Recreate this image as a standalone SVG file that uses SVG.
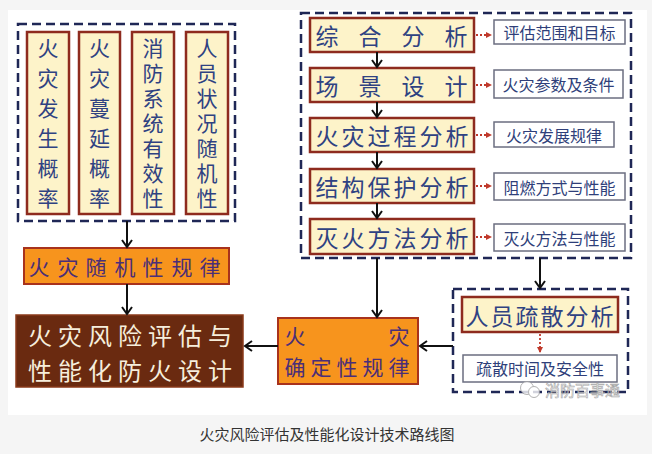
<svg xmlns="http://www.w3.org/2000/svg" width="652" height="454" viewBox="0 0 652 454">
<style>
text{font-family:"Noto Sans CJK SC","Noto Sans CJK TC",sans-serif}
.dash{fill:none;stroke:#1f2756;stroke-width:2.5;stroke-dasharray:9,5}
.yb{fill:#fdf3c9;stroke:#8e2b1e;stroke-width:2.5}
.yt{fill:#2f4282;font-size:23px;dominant-baseline:central}
.vt{fill:#2f4282;font-size:21px;writing-mode:vertical-rl;text-orientation:upright}
.wb{fill:#fff;stroke:#6b6e80;stroke-width:1.5}
.wt{fill:#2f3f7a;font-size:16px;dominant-baseline:central;text-anchor:middle}
.ob{fill:#f7941d;stroke:#a8321c;stroke-width:2}
.ot{fill:#4a2e78;font-size:21px;dominant-baseline:central}
.bt{fill:#f6eedc;font-size:24px;text-anchor:middle;dominant-baseline:central}
.arr{stroke:#111;stroke-width:2;fill:none;marker-end:url(#ah)}
.dot{stroke:#c0392b;stroke-width:1.8;fill:none;stroke-dasharray:2,2;marker-end:url(#rh)}
</style>
<defs>
<marker id="ah" markerWidth="12" markerHeight="12" refX="9" refY="6" orient="auto" markerUnits="userSpaceOnUse">
<polyline points="2,1 9,6 2,11" fill="none" stroke="#111" stroke-width="2"/>
</marker>
<marker id="rh" markerWidth="8" markerHeight="8" refX="6" refY="4" orient="auto" markerUnits="userSpaceOnUse">
<path d="M0,1 L6,4 L0,7 Z" fill="#c0392b"/>
</marker>
</defs>
<rect x="0" y="0" width="652" height="454" fill="#f5f5f5"/>
<rect x="8" y="10" width="639" height="405" fill="#fff"/>

<g id="left-group">
<rect class="dash" x="18" y="24" width="217" height="197"/>
<g id="col1"><rect class="yb" x="27" y="32" width="42" height="182"/>
<text class="vt" x="48" y="37.5" letter-spacing="9">火灾发生概率</text></g>
<g id="col2"><rect class="yb" x="79" y="32" width="41" height="182"/>
<text class="vt" x="99.5" y="37.5" letter-spacing="9">火灾蔓延概率</text></g>
<g id="col3"><rect class="yb" x="132" y="32" width="42" height="182"/>
<text class="vt" x="153" y="37.5" letter-spacing="4">消防系统有效性</text></g>
<g id="col4"><rect class="yb" x="186" y="32" width="42" height="182"/>
<text class="vt" x="207" y="37.5" letter-spacing="4">人员状况随机性</text></g>
</g>

<g id="right-group">
<rect class="dash" x="301" y="13" width="330" height="245"/>
<g id="n1"><rect class="yb" x="310" y="18" width="164" height="34"/>
<text class="yt" text-anchor="middle" y="35"><tspan x="327">综</tspan><tspan x="370">合</tspan><tspan x="413">分</tspan><tspan x="456">析</tspan></text></g>
<g id="n2"><rect class="yb" x="310" y="68" width="164" height="34"/>
<text class="yt" text-anchor="middle" y="85"><tspan x="327">场</tspan><tspan x="370">景</tspan><tspan x="413">设</tspan><tspan x="456">计</tspan></text></g>
<g id="n3"><rect class="yb" x="310" y="118" width="164" height="34"/>
<text class="yt" text-anchor="middle" y="135"><tspan x="327">火</tspan><tspan x="353">灾</tspan><tspan x="379">过</tspan><tspan x="405">程</tspan><tspan x="431">分</tspan><tspan x="457">析</tspan></text></g>
<g id="n4"><rect class="yb" x="310" y="169" width="164" height="34"/>
<text class="yt" text-anchor="middle" y="186"><tspan x="327">结</tspan><tspan x="353">构</tspan><tspan x="379">保</tspan><tspan x="405">护</tspan><tspan x="431">分</tspan><tspan x="457">析</tspan></text></g>
<g id="n5"><rect class="yb" x="310" y="219" width="164" height="35"/>
<text class="yt" text-anchor="middle" y="237"><tspan x="327">灭</tspan><tspan x="353">火</tspan><tspan x="379">方</tspan><tspan x="405">法</tspan><tspan x="431">分</tspan><tspan x="457">析</tspan></text></g>
<g id="s1"><rect class="wb" x="494" y="20" width="131" height="24"/><text class="wt" x="559.5" y="32">评估范围和目标</text></g>
<g id="s2"><rect class="wb" x="494" y="70" width="129" height="28"/><text class="wt" x="558.5" y="84">火灾参数及条件</text></g>
<g id="s3"><rect class="wb" x="494" y="122" width="120" height="25"/><text class="wt" x="554" y="134.5">火灾发展规律</text></g>
<g id="s4"><rect class="wb" x="494" y="173" width="131" height="27"/><text class="wt" x="559.5" y="186.5">阻燃方式与性能</text></g>
<g id="s5"><rect class="wb" x="494" y="224" width="131" height="27"/><text class="wt" x="559.5" y="237.5">灭火方法与性能</text></g>
</g>

<g id="evac-group">
<rect class="dash" x="453" y="289" width="175" height="103"/>
<g id="n6"><rect class="yb" x="462" y="297" width="156" height="35"/>
<text class="yt" text-anchor="middle" y="315"><tspan x="477">人</tspan><tspan x="502">员</tspan><tspan x="527">疏</tspan><tspan x="552">散</tspan><tspan x="577">分</tspan><tspan x="602">析</tspan></text></g>
<g id="s6"><rect class="wb" x="463" y="355" width="154" height="27"/><text class="wt" x="540" y="368" font-size="17">疏散时间及安全性</text></g>
</g>

<g id="random"><rect class="ob" x="24" y="248" width="205" height="36"/>
<text class="ot" text-anchor="middle" y="266"><tspan x="39">火</tspan><tspan x="68">灾</tspan><tspan x="96">随</tspan><tspan x="125">机</tspan><tspan x="153">性</tspan><tspan x="182">规</tspan><tspan x="210">律</tspan></text></g>

<g id="determ"><rect class="ob" x="278" y="318" width="140" height="66"/>
<text class="ot" text-anchor="middle" y="335"><tspan x="295">火</tspan><tspan x="399">灾</tspan></text>
<text class="ot" text-anchor="middle" y="366"><tspan x="295">确</tspan><tspan x="321">定</tspan><tspan x="347">性</tspan><tspan x="373">规</tspan><tspan x="399">律</tspan></text></g>

<g id="final"><rect x="16" y="315" width="227" height="72" fill="#6a2a10" stroke="#8a3a1a" stroke-width="1.5"/>
<text class="bt" y="334"><tspan x="40">火</tspan><tspan x="70">灾</tspan><tspan x="100">风</tspan><tspan x="130">险</tspan><tspan x="160">评</tspan><tspan x="190">估</tspan><tspan x="220">与</tspan></text>
<text class="bt" y="369"><tspan x="40">性</tspan><tspan x="70">能</tspan><tspan x="100">化</tspan><tspan x="130">防</tspan><tspan x="160">火</tspan><tspan x="190">设</tspan><tspan x="220">计</tspan></text></g>

<g id="connectors">
<line class="arr" x1="377" y1="52" x2="377" y2="67"/>
<line class="arr" x1="377" y1="102" x2="377" y2="117"/>
<line class="arr" x1="377" y1="152" x2="377" y2="168"/>
<line class="arr" x1="377" y1="203" x2="377" y2="218"/>
<line class="dot" x1="476" y1="35" x2="492" y2="35"/>
<line class="dot" x1="476" y1="85" x2="492" y2="85"/>
<line class="dot" x1="476" y1="135" x2="492" y2="135"/>
<line class="dot" x1="476" y1="186" x2="492" y2="186"/>
<line class="dot" x1="476" y1="237" x2="492" y2="237"/>
<line class="dot" x1="540" y1="334" x2="540" y2="353"/>
<line class="arr" x1="127" y1="221" x2="127" y2="247"/>
<line class="arr" x1="127" y1="284" x2="127" y2="314"/>
<line class="arr" x1="377" y1="258" x2="377" y2="317"/>
<line class="arr" x1="540" y1="258" x2="540" y2="288"/>
<line class="arr" x1="453" y1="346" x2="420" y2="346"/>
<line class="arr" x1="278" y1="346" x2="245" y2="346"/>
</g>

<g id="watermark" opacity="0.8">
<circle cx="527" cy="388" r="6.5" fill="#fff" stroke="#a0a0a0" stroke-width="1"/>
<circle cx="534" cy="392" r="5.5" fill="#fff" stroke="#a0a0a0" stroke-width="1"/>
<text x="545" y="396" font-size="15" fill="#fff" stroke="#909090" stroke-width="0.6">消防百事通</text>
</g>

<text x="327" y="433" font-size="15" fill="#333" text-anchor="middle" dominant-baseline="central">火灾风险评估及性能化设计技术路线图</text>
</svg>
